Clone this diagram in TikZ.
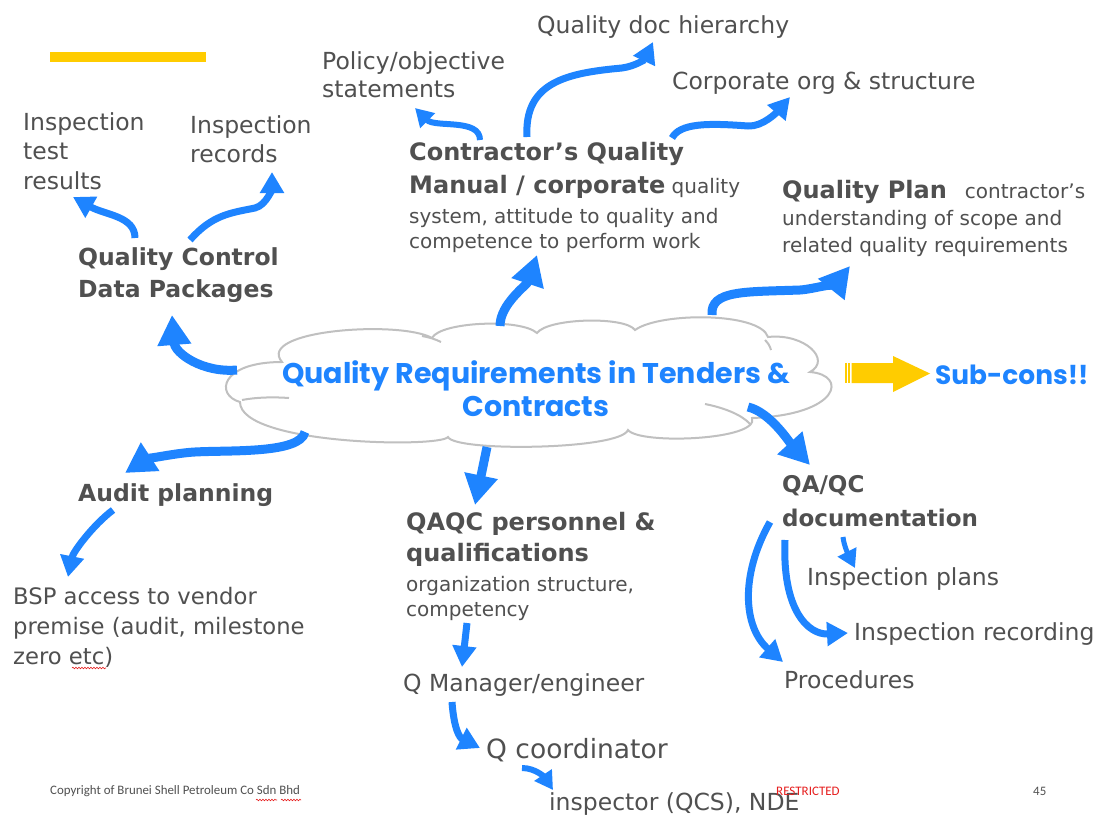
\documentclass[tikz,border=0pt]{standalone}
\usepackage{fontspec}
\setmainfont{DejaVu Sans}
\newfontfamily\titlefont{Poppins}
\newfontfamily\footfont{Carlito}
\usetikzlibrary{arrows.meta,decorations.pathmorphing}
\definecolor{qblue}{RGB}{30,132,255}
\definecolor{tgray}{RGB}{80,80,80}
\definecolor{qyellow}{RGB}{255,204,0}
\definecolor{cloudgray}{RGB}{192,192,192}
\definecolor{sred}{RGB}{230,30,30}
\begin{document}
\begin{tikzpicture}[x=1pt,y=-1pt,
  txt/.style={anchor=north west,inner sep=0pt,align=left,text=tgray,font=\fontsize{23.5}{29.5}\selectfont},
  bhead/.style={txt,font=\bfseries\fontsize{23.5}{32}\selectfont},
  bigarr/.style={draw=qblue,line width=9pt,-{Triangle[length=30pt,width=32pt]}},
  midarr/.style={draw=qblue,line width=7pt,-{Triangle[length=21pt,width=23pt]}},
  smarr/.style={draw=qblue,line width=6pt,-{Triangle[length=18pt,width=20pt]}},
  tinyarr/.style={draw=qblue,line width=5pt,-{Triangle[length=18pt,width=20pt]}},
  cloudline/.style={draw=cloudgray,line width=2pt},
  wavy/.style={draw=sred,line width=0.6pt,decorate,decoration={snake,amplitude=0.8pt,segment length=3pt}}
]
\fill[white] (0,0) rectangle (1098,819);
\useasboundingbox (0,0) rectangle (1098,819);

% yellow bar
\fill[qyellow] (50,52) rectangle (206,62);

% cloud outline
\draw[cloudline,fill=white] (240,402)
  .. controls (215,395) and (220,362) .. (282,362)
  .. controls (255,330) and (400,320) .. (432,338)
  .. controls (440,322) and (520,318) .. (537,333)
  .. controls (548,318) and (625,316) .. (635,330)
  .. controls (660,312) and (760,312) .. (768,337)
  .. controls (805,333) and (832,360) .. (810,372)
  .. controls (848,375) and (840,415) .. (752,418)
  .. controls (760,440) and (640,445) .. (628,430)
  .. controls (620,450) and (455,452) .. (448,437)
  .. controls (440,448) and (240,445) .. cycle;
\draw[cloudline] (242,400) .. controls (258,397) and (275,397) .. (289,398);
\draw[cloudline] (705,404) .. controls (725,408) and (742,415) .. (750,424);
\draw[cloudline] (422,336) .. controls (428,337) and (435,339) .. (441,342);
\draw[cloudline] (765,340) .. controls (768,343) and (770,346) .. (771,350);
\node[inner sep=0pt, minimum width=612pt, minimum height=118pt] (cloud) at (529,377) {};
\node[anchor=north, inner sep=0pt, align=center, text=qblue,
      font=\titlefont\bfseries\fontsize{28.5}{33}\selectfont] (title) at (536,360)
      {Quality Requirements in Tenders \&\\Contracts};

% sub-cons block arrow
\fill[qyellow] (851.5,363) -- (893,363) -- (893,356) -- (930,373.5) -- (893,392) -- (893,383) -- (851.5,383) -- cycle;
\fill[qyellow] (845,363) rectangle (846.5,383);
\fill[qyellow] (848,363) rectangle (850,383);
\node[anchor=west, inner sep=0pt, text=qblue, font=\titlefont\bfseries\fontsize{26.4}{30}\selectfont] (subcons) at (935,375) {Sub-cons!!};

% text nodes
\node[txt] (itr) at (23,112) {Inspection\\test\\results};
\node[txt] (irec) at (190,115) {Inspection\\records};
\node[bhead] (qcdp) at (78,247) {Quality Control\\Data Packages};
\node[txt,font=\fontsize{23.5}{28.5}\selectfont] (pol) at (322,51) {Policy/objective\\statements};
\node[txt] (qdh) at (537,15) {Quality doc hierarchy};
\node[txt] (corp) at (672,72) {Corporate org \& structure};
\node[txt,font=\fontsize{20}{25}\selectfont] (cqm) at (409,142)
  {{\bfseries\fontsize{24}{32}\selectfont Contractor’s Quality}\\[8pt]{\bfseries\fontsize{24}{32}\selectfont Manual / corporate} quality\\[5pt]system, attitude to quality and\\competence to perform work};
\node[txt,font=\fontsize{20}{27}\selectfont] (qp) at (782,180)
  {{\bfseries\fontsize{24}{32}\selectfont Quality Plan}\hspace{18pt}contractor’s\\understanding of scope and\\related quality requirements};
\node[bhead] (audit) at (78,483) {Audit planning};
\node[txt,font=\fontsize{22.7}{30}\selectfont] (bsp) at (13,587) {BSP access to vendor\\premise (audit, milestone\\zero etc)};
\node[txt,font=\fontsize{20}{25}\selectfont] (qaqc) at (406,512)
  {{\bfseries\fontsize{24}{32}\selectfont QAQC personnel \&}\\[6pt]{\bfseries\fontsize{24}{32}\selectfont qualifications}\\[5pt]organization structure,\\competency};
\node[txt] (qman) at (403,673) {Q Manager/engineer};
\node[txt,font=\fontsize{26.5}{32}\selectfont] (qcoord) at (486,738) {Q coordinator};
\node[txt] (insp) at (549,792) {inspector (QCS), NDE};
\node[bhead,font=\bfseries\fontsize{23}{34}\selectfont] (qaqcdoc) at (782,475) {QA/QC\\documentation};
\node[txt] (iplans) at (807,567) {Inspection plans};
\node[txt] (irecd) at (854,622) {Inspection recording};
\node[txt] (proc) at (784,670) {Procedures};

% footer
\node[anchor=west,inner sep=0pt,text=tgray,font=\footfont\fontsize{12.9}{15}\selectfont] (copy) at (50,791) {Copyright of Brunei Shell Petroleum Co Sdn Bhd};
\node[anchor=west,inner sep=0pt,text=sred,font=\footfont\fontsize{13}{15}\selectfont] (restr) at (776,791) {RESTRICTED};
\node[anchor=west,inner sep=0pt,text=tgray,font=\footfont\fontsize{12.9}{15}\selectfont] (pnum) at (1033,791) {45};
\draw[wavy] (256,800) -- (277,800);
\draw[wavy] (281,800) -- (301,800);
\draw[wavy] (72,668) -- (106,668);

% arrows
\draw[midarr] ([shift={(57,-9)}]qcdp.north west) .. controls +(0,-22) and +(32,18) .. ([shift={(50,85)}]itr.north west);
\draw[midarr] ([shift={(112,-7)}]qcdp.north west) .. controls +(22,-25) and +(-25,5) .. (255,208) .. controls +(12,-3) and +(0,15) .. ([shift={(82,57)}]irec.north west);
\draw[bigarr] ([shift={(-292,-7)}]cloud.center) .. controls +(-35,3) and +(3,38) .. ([shift={(94,68)}]qcdp.north west);
\draw[bigarr] ([shift={(-29,-51)}]cloud.center) .. controls +(0,-22) and +(-10,30) .. ([shift={(128,113)}]cqm.north west);
\draw[smarr] ([shift={(71,-2)}]cqm.north west) .. controls +(0,-22) and +(20,20) .. ([shift={(93,57)}]pol.north west);
\draw[midarr] ([shift={(118,-5)}]cqm.north west) .. controls +(-3,-55) and +(-55,5) .. (622,68) .. controls +(14,-2) and +(-8,17) .. ([shift={(116,27)}]qdh.north west);
\draw[midarr] ([shift={(263,-4)}]cqm.north west) .. controls +(8,-15) and +(-40,-3) .. (748,126) .. controls +(15,1) and +(-12,14) .. ([shift={(118,25)}]corp.north west);
\draw[bigarr] ([shift={(183,-62)}]cloud.center) .. controls +(-2,-25) and +(-55,2) .. (800,290) .. controls +(15,-1) and +(-12,15) .. ([shift={(68,86)}]qp.north west);
\draw[bigarr] ([shift={(219,30)}]cloud.center) .. controls +(22,5) and +(-20,-22) .. ([shift={(28,-10)}]qaqcdoc.north west);
\draw[bigarr] ([shift={(-224,55)}]cloud.center) .. controls +(-5,22) and +(35,-2) .. (195,452) .. controls +(-20,1) and +(20,-13) .. ([shift={(47,-10)}]audit.north west);
\draw[midarr] ([shift={(35,27)}]audit.north west) .. controls +(-20,15) and +(5,-25) .. ([shift={(55,-10)}]bsp.north west);
\draw[bigarr] ([shift={(-42,70)}]cloud.center) -- ([shift={(69,-7)}]qaqc.north west);
\draw[midarr] ([shift={(61,111)}]qaqc.north west) -- ([shift={(59,-6)}]qman.north west);
\draw[midarr] ([shift={(49,29)}]qman.north west) .. controls +(2,28) and +(-20,-10) .. ([shift={(-6,10)}]qcoord.north west);
\draw[smarr] ([shift={(36,30)}]qcoord.north west) .. controls +(14,0) and +(-8,-12) .. ([shift={(4,-2)}]insp.north west);
\draw[tinyarr] ([shift={(61,62)}]qaqcdoc.north west) .. controls +(1,10) and +(-5,-10) .. ([shift={(48,1)}]iplans.north west);
\draw[midarr] ([shift={(3,65)}]qaqcdoc.north west) .. controls +(-3,70) and +(-40,2) .. ([shift={(-6,11)}]irecd.north west);
\draw[midarr] ([shift={(-12,47)}]qaqcdoc.north west) .. controls +(-30,53) and +(-40,-35) .. ([shift={(-1,-8)}]proc.north west);
\end{tikzpicture}
\end{document}
